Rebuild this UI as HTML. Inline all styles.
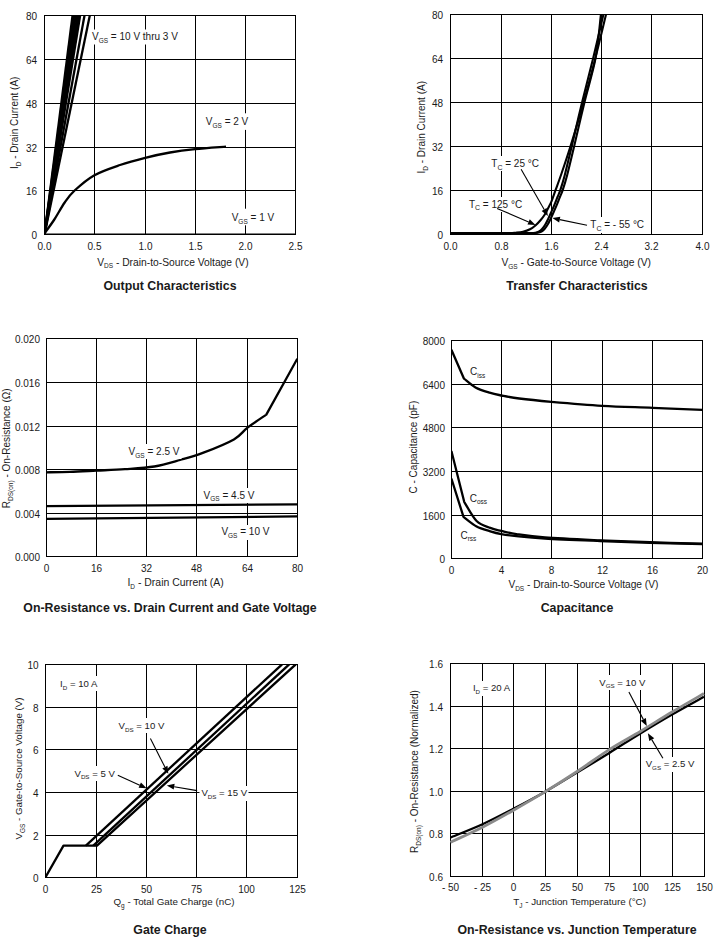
<!DOCTYPE html>
<html><head><meta charset="utf-8"><style>
html,body{margin:0;padding:0;background:#fff;}
svg{display:block;}
text{font-family:"Liberation Sans", sans-serif;fill:#1a1a1a;}
</style></head><body>
<svg width="728" height="940" viewBox="0 0 728 940">
<rect width="728" height="940" fill="#fff"/>
<defs><clipPath id="c1"><rect x="44" y="15" width="252" height="220"/></clipPath><clipPath id="c2"><rect x="450" y="14" width="253" height="221"/></clipPath><clipPath id="c3"><rect x="46" y="338" width="252" height="219"/></clipPath><clipPath id="c4"><rect x="451" y="340" width="252" height="219"/></clipPath><clipPath id="c5"><rect x="45" y="664" width="253" height="214"/></clipPath><clipPath id="c6"><rect x="450" y="663" width="255" height="214"/></clipPath></defs>
<path d="M44.5 15V235M94.5 15V235M145.5 15V235M195.5 15V235M245.5 15V235M295.5 15V235M44 15.5H296M44 59.5H296M44 103.5H296M44 147.5H296M44 190.5H296M44 234.5H296" stroke="#000" stroke-width="1" fill="none" shape-rendering="crispEdges"/>
<path d="M450.5 14V235M501.5 14V235M551.5 14V235M601.5 14V235M651.5 14V235M702.5 14V235M450 14.5H703M450 58.5H703M450 102.5H703M450 146.5H703M450 190.5H703M450 234.5H703" stroke="#000" stroke-width="1" fill="none" shape-rendering="crispEdges"/>
<path d="M46.5 338V557M96.5 338V557M146.5 338V557M196.5 338V557M247.5 338V557M297.5 338V557M46 338.5H298M46 382.5H298M46 426.5H298M46 469.5H298M46 513.5H298M46 556.5H298" stroke="#000" stroke-width="1" fill="none" shape-rendering="crispEdges"/>
<path d="M451.5 340V559M501.5 340V559M551.5 340V559M602.5 340V559M652.5 340V559M702.5 340V559M451 340.5H703M451 384.5H703M451 427.5H703M451 471.5H703M451 515.5H703M451 558.5H703" stroke="#000" stroke-width="1" fill="none" shape-rendering="crispEdges"/>
<path d="M45.5 664V878M96.5 664V878M146.5 664V878M196.5 664V878M246.5 664V878M297.5 664V878M45 664.5H298M45 707.5H298M45 749.5H298M45 792.5H298M45 835.5H298M45 877.5H298" stroke="#000" stroke-width="1" fill="none" shape-rendering="crispEdges"/>
<path d="M450.5 663V877M482.5 663V877M513.5 663V877M545.5 663V877M577.5 663V877M609.5 663V877M640.5 663V877M672.5 663V877M704.5 663V877M450 663.5H705M450 706.5H705M450 748.5H705M450 791.5H705M450 833.5H705M450 876.5H705" stroke="#000" stroke-width="1" fill="none" shape-rendering="crispEdges"/>
<path d="M44.5 234.5L72.6 15" stroke="#000" stroke-width="2.3" fill="none" stroke-linejoin="round" clip-path="url(#c1)" />
<path d="M44.5 234.5L74.2 15" stroke="#000" stroke-width="2.3" fill="none" stroke-linejoin="round" clip-path="url(#c1)" />
<path d="M44.5 234.5L75.8 15" stroke="#000" stroke-width="2.3" fill="none" stroke-linejoin="round" clip-path="url(#c1)" />
<path d="M44.5 234.5L77.4 15" stroke="#000" stroke-width="2.3" fill="none" stroke-linejoin="round" clip-path="url(#c1)" />
<path d="M44.5 234.5L79.0 15" stroke="#000" stroke-width="2.3" fill="none" stroke-linejoin="round" clip-path="url(#c1)" />
<path d="M44.5 234.5L80.2 15" stroke="#000" stroke-width="2.3" fill="none" stroke-linejoin="round" clip-path="url(#c1)" />
<path d="M44.5 234.5L84.6 15" stroke="#000" stroke-width="2.3" fill="none" stroke-linejoin="round" clip-path="url(#c1)" />
<path d="M44.5 234.5L89.9 15" stroke="#000" stroke-width="2.3" fill="none" stroke-linejoin="round" clip-path="url(#c1)" />
<path d="M44.00 234.00C45.67 231.67 50.55 225.25 54.00 220.00C57.45 214.75 61.27 207.42 64.70 202.50C68.13 197.58 69.72 195.02 74.60 190.50C79.48 185.98 86.43 179.65 94.00 175.40C101.57 171.15 111.47 167.93 120.00 165.00C128.53 162.07 136.87 159.88 145.20 157.80C153.53 155.72 161.70 153.95 170.00 152.50C178.30 151.05 185.67 150.08 195.00 149.10C204.33 148.12 220.83 147.02 226.00 146.60" stroke="#000" stroke-width="2.3" fill="none" stroke-linejoin="round" clip-path="url(#c1)" />
<path d="M44 234.5H296" stroke="#000" stroke-width="2.0" fill="none" stroke-linejoin="round" clip-path="url(#c1)" />
<path d="M450.00 233.30C459.17 233.28 494.00 233.30 505.00 233.20C516.00 233.10 513.00 232.93 516.00 232.70C519.00 232.47 520.67 232.37 523.00 231.80C525.33 231.23 527.88 230.40 530.00 229.30C532.12 228.20 533.92 226.75 535.70 225.20C537.48 223.65 539.18 221.78 540.70 220.00C542.22 218.22 543.57 216.47 544.80 214.50C546.03 212.53 546.98 210.40 548.10 208.20C549.22 206.00 550.27 204.30 551.50 201.30C552.73 198.30 553.92 194.58 555.50 190.20C557.08 185.82 558.52 182.28 561.00 175.00C563.48 167.72 566.63 158.63 570.40 146.50C574.17 134.37 579.45 116.88 583.60 102.20C587.75 87.52 591.57 73.00 595.30 58.40C599.03 43.80 604.22 21.90 606.00 14.60" stroke="#000" stroke-width="2.1" fill="none" stroke-linejoin="round" clip-path="url(#c2)" />
<path d="M450.00 233.30C460.83 233.30 502.00 233.33 515.00 233.30C528.00 233.27 524.62 233.18 528.00 233.10C531.38 233.02 533.45 233.07 535.30 232.80C537.15 232.53 537.93 232.17 539.10 231.50C540.27 230.83 541.22 230.05 542.30 228.80C543.38 227.55 544.60 225.70 545.60 224.00C546.60 222.30 547.35 220.60 548.30 218.60C549.25 216.60 550.27 214.33 551.30 212.00C552.33 209.67 553.47 207.10 554.50 204.60C555.53 202.10 556.53 199.40 557.50 197.00C558.47 194.60 559.08 193.87 560.30 190.20C561.52 186.53 562.90 182.28 564.80 175.00C566.70 167.72 568.82 158.63 571.70 146.50C574.58 134.37 578.53 116.88 582.10 102.20C585.67 87.52 589.55 73.00 593.10 58.40C596.65 43.80 601.68 21.90 603.40 14.60" stroke="#000" stroke-width="2.1" fill="none" stroke-linejoin="round" clip-path="url(#c2)" />
<path d="M450.00 233.30C461.67 233.30 506.33 233.32 520.00 233.30C533.67 233.28 529.05 233.28 532.00 233.20C534.95 233.12 536.12 233.08 537.70 232.80C539.28 232.52 540.33 232.17 541.50 231.50C542.67 230.83 543.62 230.05 544.70 228.80C545.78 227.55 547.00 225.70 548.00 224.00C549.00 222.30 549.75 220.60 550.70 218.60C551.65 216.60 552.67 214.33 553.70 212.00C554.73 209.67 555.87 207.10 556.90 204.60C557.93 202.10 558.93 199.40 559.90 197.00C560.87 194.60 561.48 193.87 562.70 190.20C563.92 186.53 565.30 182.28 567.20 175.00C569.10 167.72 571.22 158.63 574.10 146.50C576.98 134.37 580.93 116.88 584.50 102.20C588.07 87.52 592.77 73.00 595.50 58.40C598.23 43.80 600.00 21.90 600.90 14.60" stroke="#000" stroke-width="2.1" fill="none" stroke-linejoin="round" clip-path="url(#c2)" />
<path d="M450 233.5H520" stroke="#000" stroke-width="2.2" fill="none" stroke-linejoin="round" clip-path="url(#c2)" />
<path d="M46.00 472.30C50.00 472.22 61.60 472.08 70.00 471.80C78.40 471.52 87.23 471.03 96.40 470.60C105.57 470.17 115.35 469.88 125.00 469.20C134.65 468.52 145.13 468.03 154.30 466.50C163.47 464.97 171.92 462.27 180.00 460.00C188.08 457.73 193.82 456.33 202.80 452.90C211.78 449.47 226.45 443.60 233.90 439.40C241.35 435.20 242.10 431.83 247.50 427.70C252.90 423.57 263.17 416.78 266.30 414.60L285.8 379.5L297.3 358.7" stroke="#000" stroke-width="2.3" fill="none" stroke-linejoin="round" clip-path="url(#c3)" />
<path d="M46 506.2L297 504.3" stroke="#000" stroke-width="2.3" fill="none" stroke-linejoin="round" clip-path="url(#c3)" />
<path d="M46 518.8L297 516.4" stroke="#000" stroke-width="2.3" fill="none" stroke-linejoin="round" clip-path="url(#c3)" />
<path d="M451.40 349.80L464.00 378.70C465.92 380.15 471.25 385.07 475.50 387.40C479.75 389.73 485.17 391.35 489.50 392.70C493.83 394.05 496.55 394.53 501.50 395.50C506.45 396.47 510.90 397.45 519.20 398.50C527.50 399.55 537.47 400.58 551.30 401.80C565.13 403.02 585.30 404.80 602.20 405.80C619.10 406.80 636.02 407.12 652.70 407.80C669.38 408.48 694.03 409.55 702.30 409.90" stroke="#000" stroke-width="2.3" fill="none" stroke-linejoin="round" clip-path="url(#c4)" />
<path d="M451.40 451.00L464.20 501.80C466.27 505.00 472.25 516.65 476.60 521.00C480.95 525.35 486.18 526.25 490.30 527.90C494.42 529.55 496.95 529.87 501.30 530.90C505.65 531.93 509.12 533.00 516.40 534.10C523.68 535.20 531.07 536.47 545.00 537.50C558.93 538.53 582.50 539.52 600.00 540.30C617.50 541.08 632.95 541.65 650.00 542.20C667.05 542.75 693.58 543.37 702.30 543.60" stroke="#000" stroke-width="2.3" fill="none" stroke-linejoin="round" clip-path="url(#c4)" />
<path d="M451.40 478.50L463.50 516.90C465.68 518.50 472.13 524.10 476.60 526.50C481.07 528.90 486.18 530.03 490.30 531.30C494.42 532.57 496.95 533.28 501.30 534.10C505.65 534.92 509.12 535.45 516.40 536.20C523.68 536.95 531.07 537.80 545.00 538.60C558.93 539.40 582.50 540.30 600.00 541.00C617.50 541.70 632.95 542.27 650.00 542.80C667.05 543.33 693.58 543.97 702.30 544.20" stroke="#000" stroke-width="2.3" fill="none" stroke-linejoin="round" clip-path="url(#c4)" />
<path d="M45.50 877.20L63.50 845.60L97.00 845.60L295.80 664.30" stroke="#000" stroke-width="2.3" fill="none" stroke-linejoin="round" clip-path="url(#c5)" />
<path d="M85.90 845.60L282.10 664.30" stroke="#000" stroke-width="2.3" fill="none" stroke-linejoin="round" clip-path="url(#c5)" />
<path d="M93.30 845.60L289.20 664.30" stroke="#000" stroke-width="2.3" fill="none" stroke-linejoin="round" clip-path="url(#c5)" />
<path d="M450.40 837.50C455.75 835.28 471.92 829.03 482.50 824.20C493.08 819.37 503.37 813.97 513.90 808.50C524.43 803.03 535.17 797.40 545.70 791.40C556.23 785.40 566.50 778.92 577.10 772.50C587.70 766.08 598.70 759.45 609.30 752.90C619.90 746.35 630.23 739.60 640.70 733.20C651.17 726.80 661.57 720.57 672.10 714.50C682.63 708.43 698.60 699.75 703.90 696.80" stroke="#000" stroke-width="2.3" fill="none" stroke-linejoin="round" clip-path="url(#c6)" />
<path d="M450.40 842.30C455.75 839.78 471.92 832.58 482.50 827.20C493.08 821.82 503.37 815.97 513.90 810.00C524.43 804.03 535.17 797.82 545.70 791.40C556.23 784.98 566.50 778.47 577.10 771.50C587.70 764.53 598.70 756.32 609.30 749.60C619.90 742.88 630.23 737.47 640.70 731.20C651.17 724.93 661.57 718.28 672.10 712.00C682.63 705.72 698.60 696.58 703.90 693.50" stroke="#8a8a8a" stroke-width="2.8" fill="none" stroke-linejoin="round" clip-path="url(#c6)" />
<rect x="90" y="29.5" width="90" height="15" fill="#fff"/>
<rect x="203.5" y="113.3" width="47" height="16.6" fill="#fff"/>
<rect x="229.5" y="208.7" width="47" height="16.6" fill="#fff"/>
<rect x="489" y="156" width="52" height="15" fill="#fff"/>
<rect x="466.5" y="197" width="57" height="15" fill="#fff"/>
<rect x="588" y="217" width="59" height="16" fill="#fff"/>
<rect x="126.5" y="444" width="55" height="15" fill="#fff"/>
<rect x="201.5" y="488" width="55" height="15" fill="#fff"/>
<rect x="219.5" y="525" width="51" height="15" fill="#fff"/>
<rect x="58" y="676" width="41" height="15" fill="#fff"/>
<rect x="116.5" y="718" width="49" height="15" fill="#fff"/>
<rect x="72.5" y="766" width="43" height="15" fill="#fff"/>
<rect x="199.5" y="786" width="49" height="15" fill="#fff"/>
<rect x="471" y="681" width="41" height="15" fill="#fff"/>
<rect x="597" y="675" width="49" height="15" fill="#fff"/>
<rect x="643.5" y="757" width="52" height="15" fill="#fff"/>
<text x="92" y="39.8" font-size="10" class="ann">V<tspan font-size="6.5" dy="2.7">GS</tspan><tspan dy="-2.7"> = 10 V thru 3 V</tspan></text>
<text x="205.8" y="125.1" font-size="10" class="ann">V<tspan font-size="6.5" dy="2.7">GS</tspan><tspan dy="-2.7"> = 2 V</tspan></text>
<text x="231.7" y="221.2" font-size="10" class="ann">V<tspan font-size="6.5" dy="2.7">GS</tspan><tspan dy="-2.7"> = 1 V</tspan></text>
<text x="491.3" y="166.8" font-size="10" class="ann">T<tspan font-size="7" dy="2.7">C</tspan><tspan dy="-2.7"> = 25 °C</tspan></text>
<text x="468.9" y="207.7" font-size="10" class="ann">T<tspan font-size="7" dy="2.7">C</tspan><tspan dy="-2.7"> = 125 °C</tspan></text>
<text x="590.3" y="228" font-size="10" class="ann">T<tspan font-size="7" dy="2.7">C</tspan><tspan dy="-2.7"> = - 55 °C</tspan></text>
<text x="128.6" y="455" font-size="10" class="ann">V<tspan font-size="6.5" dy="2.7">GS</tspan><tspan dy="-2.7"> = 2.5 V</tspan></text>
<text x="203.6" y="498.6" font-size="10" class="ann">V<tspan font-size="6.5" dy="2.7">GS</tspan><tspan dy="-2.7"> = 4.5 V</tspan></text>
<text x="221.4" y="535.4" font-size="10" class="ann">V<tspan font-size="6.5" dy="2.7">GS</tspan><tspan dy="-2.7"> = 10 V</tspan></text>
<text class="ann" x="470" y="375.4" font-size="10">C<tspan font-size="6.5" dy="2.5">iss</tspan></text>
<text class="ann" x="469.7" y="501.8" font-size="10">C<tspan font-size="6.5" dy="2.5">oss</tspan></text>
<text class="ann" x="460.4" y="538.9" font-size="10">C<tspan font-size="6.5" dy="2.5">rss</tspan></text>
<text x="60.1" y="687.3" font-size="9.6" class="ann">I<tspan font-size="6.2" dy="2.7">D</tspan><tspan dy="-2.7"> = 10 A</tspan></text>
<text x="118.6" y="729.1" font-size="9.6" class="ann">V<tspan font-size="6.2" dy="2.7">DS</tspan><tspan dy="-2.7"> = 10 V</tspan></text>
<text x="74.5" y="776.7" font-size="9.6" class="ann">V<tspan font-size="6.2" dy="2.7">DS</tspan><tspan dy="-2.7"> = 5 V</tspan></text>
<text x="201.4" y="796.3" font-size="9.6" class="ann">V<tspan font-size="6.2" dy="2.7">DS</tspan><tspan dy="-2.7"> = 15 V</tspan></text>
<text x="472.9" y="691.4" font-size="9.6" class="ann">I<tspan font-size="6.2" dy="2.7">D</tspan><tspan dy="-2.7"> = 20 A</tspan></text>
<text x="599.3" y="685.7" font-size="9.6" class="ann">V<tspan font-size="6.2" dy="2.7">GS</tspan><tspan dy="-2.7"> = 10 V</tspan></text>
<text x="645.7" y="767.1" font-size="9.6" class="ann">V<tspan font-size="6.2" dy="2.7">GS</tspan><tspan dy="-2.7"> = 2.5 V</tspan></text>
<path d="M521.10 169.20L544.17 209.49" stroke="#000" stroke-width="1.1" fill="none"/>
<path d="M547.90 216.00L541.66 210.93L546.69 208.05Z" fill="#000"/>
<path d="M497.10 208.40L528.61 221.94" stroke="#000" stroke-width="1.1" fill="none"/>
<path d="M535.50 224.90L527.46 224.60L529.75 219.27Z" fill="#000"/>
<path d="M587.00 225.20L559.75 219.61" stroke="#000" stroke-width="1.1" fill="none"/>
<path d="M552.40 218.10L560.33 216.77L559.16 222.45Z" fill="#000"/>
<path d="M150.40 738.60L164.90 767.11" stroke="#000" stroke-width="1.1" fill="none"/>
<path d="M168.30 773.80L162.32 768.43L167.49 765.80Z" fill="#000"/>
<path d="M117.80 775.30L139.76 785.21" stroke="#000" stroke-width="1.1" fill="none"/>
<path d="M146.60 788.30L138.57 787.86L140.96 782.57Z" fill="#000"/>
<path d="M197.10 790.60L174.19 786.67" stroke="#000" stroke-width="1.1" fill="none"/>
<path d="M166.80 785.40L174.68 783.81L173.70 789.53Z" fill="#000"/>
<path d="M628.90 692.10L643.30 719.37" stroke="#000" stroke-width="1.1" fill="none"/>
<path d="M646.80 726.00L640.73 720.72L645.86 718.01Z" fill="#000"/>
<path d="M662.90 758.20L651.76 739.63" stroke="#000" stroke-width="1.1" fill="none"/>
<path d="M647.90 733.20L654.25 738.14L649.27 741.12Z" fill="#000"/>
<text class="tick" x="44.50" y="249.7" font-size="10" text-anchor="middle" font-weight="normal" >0.0</text>
<text class="tick" x="94.50" y="249.7" font-size="10" text-anchor="middle" font-weight="normal" >0.5</text>
<text class="tick" x="145.50" y="249.7" font-size="10" text-anchor="middle" font-weight="normal" >1.0</text>
<text class="tick" x="195.50" y="249.7" font-size="10" text-anchor="middle" font-weight="normal" >1.5</text>
<text class="tick" x="245.50" y="249.7" font-size="10" text-anchor="middle" font-weight="normal" >2.0</text>
<text class="tick" x="295.50" y="249.7" font-size="10" text-anchor="middle" font-weight="normal" >2.5</text>
<text class="tick" x="37" y="238.70" font-size="10" text-anchor="end" font-weight="normal" >0</text>
<text class="tick" x="37" y="194.70" font-size="10" text-anchor="end" font-weight="normal" >16</text>
<text class="tick" x="37" y="151.70" font-size="10" text-anchor="end" font-weight="normal" >32</text>
<text class="tick" x="37" y="107.70" font-size="10" text-anchor="end" font-weight="normal" >48</text>
<text class="tick" x="37" y="63.70" font-size="10" text-anchor="end" font-weight="normal" >64</text>
<text class="tick" x="37" y="19.70" font-size="10" text-anchor="end" font-weight="normal" >80</text>
<text class="tick" x="450.50" y="249.7" font-size="10" text-anchor="middle" font-weight="normal" >0.0</text>
<text class="tick" x="501.50" y="249.7" font-size="10" text-anchor="middle" font-weight="normal" >0.8</text>
<text class="tick" x="551.50" y="249.7" font-size="10" text-anchor="middle" font-weight="normal" >1.6</text>
<text class="tick" x="601.50" y="249.7" font-size="10" text-anchor="middle" font-weight="normal" >2.4</text>
<text class="tick" x="651.50" y="249.7" font-size="10" text-anchor="middle" font-weight="normal" >3.2</text>
<text class="tick" x="702.50" y="249.7" font-size="10" text-anchor="middle" font-weight="normal" >4.0</text>
<text class="tick" x="443" y="238.70" font-size="10" text-anchor="end" font-weight="normal" >0</text>
<text class="tick" x="443" y="194.70" font-size="10" text-anchor="end" font-weight="normal" >16</text>
<text class="tick" x="443" y="150.70" font-size="10" text-anchor="end" font-weight="normal" >32</text>
<text class="tick" x="443" y="106.70" font-size="10" text-anchor="end" font-weight="normal" >48</text>
<text class="tick" x="443" y="62.70" font-size="10" text-anchor="end" font-weight="normal" >64</text>
<text class="tick" x="443" y="18.70" font-size="10" text-anchor="end" font-weight="normal" >80</text>
<text class="tick" x="46.50" y="571.7" font-size="10" text-anchor="middle" font-weight="normal" >0</text>
<text class="tick" x="96.50" y="571.7" font-size="10" text-anchor="middle" font-weight="normal" >16</text>
<text class="tick" x="146.50" y="571.7" font-size="10" text-anchor="middle" font-weight="normal" >32</text>
<text class="tick" x="196.50" y="571.7" font-size="10" text-anchor="middle" font-weight="normal" >48</text>
<text class="tick" x="247.50" y="571.7" font-size="10" text-anchor="middle" font-weight="normal" >64</text>
<text class="tick" x="297.50" y="571.7" font-size="10" text-anchor="middle" font-weight="normal" >80</text>
<text class="tick" x="40" y="560.70" font-size="10" text-anchor="end" font-weight="normal" >0.000</text>
<text class="tick" x="40" y="517.70" font-size="10" text-anchor="end" font-weight="normal" >0.004</text>
<text class="tick" x="40" y="473.70" font-size="10" text-anchor="end" font-weight="normal" >0.008</text>
<text class="tick" x="40" y="430.70" font-size="10" text-anchor="end" font-weight="normal" >0.012</text>
<text class="tick" x="40" y="386.70" font-size="10" text-anchor="end" font-weight="normal" >0.016</text>
<text class="tick" x="40" y="342.70" font-size="10" text-anchor="end" font-weight="normal" >0.020</text>
<text class="tick" x="451.50" y="573.7" font-size="10" text-anchor="middle" font-weight="normal" >0</text>
<text class="tick" x="501.50" y="573.7" font-size="10" text-anchor="middle" font-weight="normal" >4</text>
<text class="tick" x="551.50" y="573.7" font-size="10" text-anchor="middle" font-weight="normal" >8</text>
<text class="tick" x="602.50" y="573.7" font-size="10" text-anchor="middle" font-weight="normal" >12</text>
<text class="tick" x="652.50" y="573.7" font-size="10" text-anchor="middle" font-weight="normal" >16</text>
<text class="tick" x="702.50" y="573.7" font-size="10" text-anchor="middle" font-weight="normal" >20</text>
<text class="tick" x="445" y="562.70" font-size="10" text-anchor="end" font-weight="normal" >0</text>
<text class="tick" x="445" y="519.70" font-size="10" text-anchor="end" font-weight="normal" >1600</text>
<text class="tick" x="445" y="475.70" font-size="10" text-anchor="end" font-weight="normal" >3200</text>
<text class="tick" x="445" y="431.70" font-size="10" text-anchor="end" font-weight="normal" >4800</text>
<text class="tick" x="445" y="388.70" font-size="10" text-anchor="end" font-weight="normal" >6400</text>
<text class="tick" x="445" y="344.70" font-size="10" text-anchor="end" font-weight="normal" >8000</text>
<text class="tick" x="45.50" y="892.7" font-size="10" text-anchor="middle" font-weight="normal" >0</text>
<text class="tick" x="96.50" y="892.7" font-size="10" text-anchor="middle" font-weight="normal" >25</text>
<text class="tick" x="146.50" y="892.7" font-size="10" text-anchor="middle" font-weight="normal" >50</text>
<text class="tick" x="196.50" y="892.7" font-size="10" text-anchor="middle" font-weight="normal" >75</text>
<text class="tick" x="246.50" y="892.7" font-size="10" text-anchor="middle" font-weight="normal" >100</text>
<text class="tick" x="297.50" y="892.7" font-size="10" text-anchor="middle" font-weight="normal" >125</text>
<text class="tick" x="38.5" y="881.70" font-size="10" text-anchor="end" font-weight="normal" >0</text>
<text class="tick" x="38.5" y="839.70" font-size="10" text-anchor="end" font-weight="normal" >2</text>
<text class="tick" x="38.5" y="796.70" font-size="10" text-anchor="end" font-weight="normal" >4</text>
<text class="tick" x="38.5" y="753.70" font-size="10" text-anchor="end" font-weight="normal" >6</text>
<text class="tick" x="38.5" y="711.70" font-size="10" text-anchor="end" font-weight="normal" >8</text>
<text class="tick" x="38.5" y="668.70" font-size="10" text-anchor="end" font-weight="normal" >10</text>
<text class="tick" x="450.50" y="890.7" font-size="10" text-anchor="middle" font-weight="normal" >- 50</text>
<text class="tick" x="482.50" y="890.7" font-size="10" text-anchor="middle" font-weight="normal" >- 25</text>
<text class="tick" x="513.50" y="890.7" font-size="10" text-anchor="middle" font-weight="normal" >0</text>
<text class="tick" x="545.50" y="890.7" font-size="10" text-anchor="middle" font-weight="normal" >25</text>
<text class="tick" x="577.50" y="890.7" font-size="10" text-anchor="middle" font-weight="normal" >50</text>
<text class="tick" x="609.50" y="890.7" font-size="10" text-anchor="middle" font-weight="normal" >75</text>
<text class="tick" x="640.50" y="890.7" font-size="10" text-anchor="middle" font-weight="normal" >100</text>
<text class="tick" x="672.50" y="890.7" font-size="10" text-anchor="middle" font-weight="normal" >125</text>
<text class="tick" x="704.50" y="890.7" font-size="10" text-anchor="middle" font-weight="normal" >150</text>
<text class="tick" x="443" y="880.70" font-size="10" text-anchor="end" font-weight="normal" >0.6</text>
<text class="tick" x="443" y="837.70" font-size="10" text-anchor="end" font-weight="normal" >0.8</text>
<text class="tick" x="443" y="795.70" font-size="10" text-anchor="end" font-weight="normal" >1.0</text>
<text class="tick" x="443" y="752.70" font-size="10" text-anchor="end" font-weight="normal" >1.2</text>
<text class="tick" x="443" y="710.70" font-size="10" text-anchor="end" font-weight="normal" >1.4</text>
<text class="tick" x="443" y="667.70" font-size="10" text-anchor="end" font-weight="normal" >1.6</text>
<text class="xl" x="172.9" y="265.5" font-size="10.3" text-anchor="middle">V<tspan font-size="6.5" dy="2.7">DS</tspan><tspan dy="-2.7"> - Drain-to-Source Voltage (V)</tspan></text>
<text class="xl" x="576.2" y="266" font-size="10.3" text-anchor="middle">V<tspan font-size="6.5" dy="2.7">GS</tspan><tspan dy="-2.7"> - Gate-to-Source Voltage (V)</tspan></text>
<text class="xl" x="175.6" y="586" font-size="10.45" text-anchor="middle">I<tspan font-size="6.5" dy="2.7">D</tspan><tspan dy="-2.7"> - Drain Current (A)</tspan></text>
<text class="xl" x="583.4" y="588" font-size="10.2" text-anchor="middle">V<tspan font-size="6.5" dy="2.7">DS</tspan><tspan dy="-2.7"> - Drain-to-Source Voltage (V)</tspan></text>
<text class="xl" x="174" y="905" font-size="9.8" text-anchor="middle">Q<tspan font-size="6.5" dy="2.7">g</tspan><tspan dy="-2.7"> - Total Gate Charge (nC)</tspan></text>
<text class="xl" x="579.6" y="905" font-size="9.85" text-anchor="middle">T<tspan font-size="6.5" dy="2.7">J</tspan><tspan dy="-2.7"> - Junction Temperature (°C)</tspan></text>
<text class="yl" x="0" y="0" font-size="10" text-anchor="middle" transform="translate(18 122.8) rotate(-90)">I<tspan font-size="6.5" dy="2.7">D</tspan><tspan dy="-2.7"> - Drain Current (A)</tspan></text>
<text class="yl" x="0" y="0" font-size="10" text-anchor="middle" transform="translate(425 127.25) rotate(-90)">I<tspan font-size="6.5" dy="2.7">D</tspan><tspan dy="-2.7"> - Drain Current (A)</tspan></text>
<text class="yl" x="0" y="0" font-size="10" text-anchor="middle" transform="translate(10 448.3) rotate(-90)">R<tspan font-size="6.5" dy="2.7">DS(on)</tspan><tspan dy="-2.7"> - On-Resistance (Ω)</tspan></text>
<text class="yl" x="0" y="0" font-size="10" text-anchor="middle" transform="translate(417 447.1) rotate(-90)">C - Capacitance (pF)</text>
<text class="yl" x="0" y="0" font-size="9.75" text-anchor="middle" transform="translate(22 768.5) rotate(-90)">V<tspan font-size="6.5" dy="2.7">GS</tspan><tspan dy="-2.7"> - Gate-to-Source Voltage (V)</tspan></text>
<text class="yl" x="0" y="0" font-size="10" text-anchor="middle" transform="translate(418 771.5) rotate(-90)">R<tspan font-size="6.5" dy="2.7">DS(on)</tspan><tspan dy="-2.7"> - On-Resistance (Normalized)</tspan></text>
<text class="title" x="170" y="290" font-size="12.35" text-anchor="middle" font-weight="bold">Output Characteristics</text>
<text class="title" x="577" y="290" font-size="12.35" text-anchor="middle" font-weight="bold">Transfer Characteristics</text>
<text class="title" x="170" y="612" font-size="12.35" text-anchor="middle" font-weight="bold">On-Resistance vs. Drain Current and Gate Voltage</text>
<text class="title" x="577" y="612" font-size="12.35" text-anchor="middle" font-weight="bold">Capacitance</text>
<text class="title" x="170" y="934" font-size="12.35" text-anchor="middle" font-weight="bold">Gate Charge</text>
<text class="title" x="577" y="934" font-size="12.35" text-anchor="middle" font-weight="bold">On-Resistance vs. Junction Temperature</text>
</svg>
</body></html>
